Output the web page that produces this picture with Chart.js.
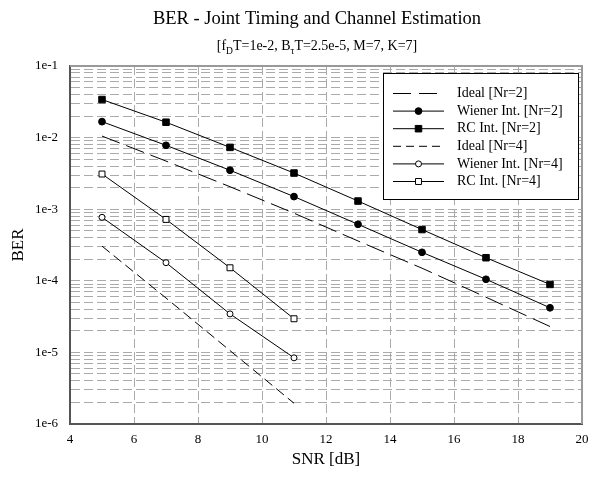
<!DOCTYPE html>
<html>
<head>
<meta charset="utf-8">
<script src="https://cdn.jsdelivr.net/npm/chart.js@4.4.1/dist/chart.umd.min.js"></script>
<style>
  html, body { margin: 0; padding: 0; background: #fff; }
  #wrap { width: 590px; height: 477px; }
</style>
</head>
<body>
<div id="wrap"><canvas id="berChart" width="590" height="477"></canvas></div>
<script>
// --- DATA ---
const snrNr2 = [5, 7, 9, 11, 13, 15, 17, 19];
const snrNr4 = [5, 7, 9, 11];

const idealNr2  = [1.05e-2, 4.7e-3, 2.06e-3, 8.8e-4, 3.6e-4, 1.5e-4, 5.9e-5, 2.3e-5];
const wienerNr2 = [1.67e-2, 7.8e-3, 3.5e-3, 1.5e-3, 6.15e-4, 2.5e-4, 1.05e-4, 4.2e-5];
const rcNr2     = [3.4e-2, 1.64e-2, 7.3e-3, 3.2e-3, 1.3e-3, 5.2e-4, 2.1e-4, 8.9e-5];

const idealNr4  = [3.05e-4, 5.75e-5, 1.06e-5, 1.95e-6];
const wienerNr4 = [7.7e-4, 1.79e-4, 3.45e-5, 8.4e-6];
const rcNr4     = [3.1e-3, 7.2e-4, 1.52e-4, 2.95e-5];

// axis ticks
const snrMin = 4, snrMax = 20, snrStep = 2;
const decadeTicks = [1e-6, 1e-5, 1e-4, 1e-3, 1e-2, 1e-1];

const titleText = 'BER - Joint Timing and Channel Estimation';
// subtitle pieces: [text, isSubscript]
const subtitleParts = [
  ['[f', false], ['D', true], ['T=1e-2, B', false], ['\u03C4', true], ['T=2.5e-5, M=7, K=7]', false]
];

const serif = "'Liberation Serif', 'Times New Roman', serif";

function pts(xs, ys) {
  return xs.map((x, i) => ({ x: x, y: ys[i] }));
}

// --- PLUGINS ---
const headerPlugin = {
  id: 'header',
  afterDraw(chart) {
    const ctx = chart.ctx;
    const cx = (chart.chartArea.left + chart.chartArea.right) / 2 - 9;
    ctx.save();
    ctx.fillStyle = '#000';
    ctx.textBaseline = 'alphabetic';
    ctx.textAlign = 'center';
    ctx.font = '18.5px ' + serif;
    ctx.fillText(titleText, cx, 24);

    // subtitle with subscripts
    ctx.textAlign = 'left';
    let total = 0;
    subtitleParts.forEach(([t, sub]) => {
      ctx.font = (sub ? '9.5px ' : '14px ') + serif;
      total += ctx.measureText(t).width;
    });
    let x = cx - total / 2;
    subtitleParts.forEach(([t, sub]) => {
      ctx.font = (sub ? '9.5px ' : '14px ') + serif;
      ctx.fillText(t, x, sub ? 53.5 : 50);
      x += ctx.measureText(t).width;
    });
    ctx.restore();
  }
};

const frameLegendPlugin = {
  id: 'frameLegend',
  afterDatasetsDraw(chart) {
    const { ctx, chartArea } = chart;
    ctx.save();

    // top + right frame
    ctx.strokeStyle = '#999';
    ctx.lineWidth = 2;
    ctx.beginPath();
    ctx.moveTo(chartArea.left, chartArea.top);
    ctx.lineTo(chartArea.right, chartArea.top);
    ctx.lineTo(chartArea.right, chartArea.bottom);
    ctx.stroke();

    // boxed legend in the upper right corner
    const w = 195, h = 126;
    const right = chartArea.right - 4, top = chartArea.top + 7;
    const left = right - w;
    ctx.fillStyle = '#fff';
    ctx.fillRect(left, top, w, h);
    ctx.strokeStyle = '#000';
    ctx.lineWidth = 1;
    ctx.strokeRect(left + 0.5, top + 0.5, w, h);

    chart.data.datasets.forEach((ds, i) => {
      const y = top + 20.5 + i * 17.6;
      const x0 = left + 10, x1 = left + 61;
      ctx.strokeStyle = '#000';
      ctx.lineWidth = 1;
      ctx.setLineDash(ds.legendDash || []);
      ctx.beginPath();
      ctx.moveTo(x0, y);
      ctx.lineTo(x1, y);
      ctx.stroke();
      ctx.setLineDash([]);
      if (ds.pointRadius > 0) {
        ctx.fillStyle = ds.pointBackgroundColor;
        ctx.strokeStyle = '#000';
        Chart.helpers.drawPoint(ctx, {
          pointStyle: ds.pointStyle, radius: ds.pointRadius, rotation: 0, borderWidth: 1
        }, (x0 + x1) / 2, y);
      }
      ctx.fillStyle = '#000';
      ctx.font = '14px ' + serif;
      ctx.textAlign = 'left';
      ctx.textBaseline = 'middle';
      ctx.fillText(ds.label, left + 74, y);
    });
    ctx.restore();
  }
};

// --- CHART ---
Chart.defaults.font.family = serif;
Chart.defaults.color = '#000';

const ctx = document.getElementById('berChart').getContext('2d');
const berChart = new Chart(ctx, {
  type: 'line',
  data: {
    datasets: [
      {
        label: 'Ideal [Nr=2]',
        data: pts(snrNr2, idealNr2),
        borderColor: '#000', borderWidth: 1,
        borderDash: [19, 7], legendDash: [18, 8],
        pointRadius: 0
      },
      {
        label: 'Wiener Int. [Nr=2]',
        data: pts(snrNr2, wienerNr2),
        borderColor: '#000', borderWidth: 1,
        pointStyle: 'circle', pointRadius: 3.4,
        pointBackgroundColor: '#000', pointBorderColor: '#000', pointBorderWidth: 1
      },
      {
        label: 'RC Int. [Nr=2]',
        data: pts(snrNr2, rcNr2),
        borderColor: '#000', borderWidth: 1,
        pointStyle: 'rect', pointRadius: 4.6,
        pointBackgroundColor: '#000', pointBorderColor: '#000', pointBorderWidth: 1
      },
      {
        label: 'Ideal [Nr=4]',
        data: pts(snrNr4, idealNr4),
        borderColor: '#000', borderWidth: 1,
        borderDash: [10, 5], legendDash: [8, 5],
        pointRadius: 0
      },
      {
        label: 'Wiener Int. [Nr=4]',
        data: pts(snrNr4, wienerNr4),
        borderColor: '#000', borderWidth: 1,
        pointStyle: 'circle', pointRadius: 3,
        pointBackgroundColor: '#fff', pointBorderColor: '#000', pointBorderWidth: 1
      },
      {
        label: 'RC Int. [Nr=4]',
        data: pts(snrNr4, rcNr4),
        borderColor: '#000', borderWidth: 1,
        pointStyle: 'rect', pointRadius: 4.2,
        pointBackgroundColor: '#fff', pointBorderColor: '#000', pointBorderWidth: 1
      }
    ]
  },
  options: {
    responsive: false,
    animation: false,
    layout: { padding: { top: 66, right: 8, left: 0, bottom: 0 } },
    plugins: {
      legend: { display: false },
      title: { display: false },
      tooltip: { enabled: false }
    },
    scales: {
      x: {
        type: 'linear',
        min: snrMin, max: snrMax,
        ticks: { stepSize: snrStep, padding: 8, font: { size: 13 }, color: '#000' },
        grid: { color: '#aaa', lineWidth: 1, drawTicks: false },
        border: { display: true, color: '#555', width: 2, dash: [9, 4] },
        title: { display: true, text: 'SNR [dB]', font: { size: 17 }, padding: { top: 0, bottom: 7 } },
        afterFit(scale) {
          scale.height = 53;
          // keep the plot edge at the layout padding, not the label overflow
          scale.paddingLeft = 0;
          scale.paddingRight = 0;
        }
      },
      y: {
        type: 'logarithmic',
        min: decadeTicks[0], max: decadeTicks[decadeTicks.length - 1],
        afterBuildTicks(scale) {
          // decades plus 2..9 minor grid lines
          const ticks = [];
          decadeTicks.forEach((d, i) => {
            ticks.push({ value: d });
            if (i < decadeTicks.length - 1) {
              for (let m = 2; m <= 9; m++) ticks.push({ value: m * d });
            }
          });
          scale.ticks = ticks;
        },
        ticks: {
          autoSkip: false,
          padding: 12,
          font: { size: 13 },
          color: '#000',
          callback: (v) => decadeTicks.some(d => Math.abs(d - v) / d < 1e-9) ? '1e' + Math.round(Math.log10(v)) : ''
        },
        grid: { color: '#aaa', lineWidth: 1, drawTicks: false },
        border: { display: true, color: '#555', width: 2, dash: [9, 4] },
        title: { display: true, text: 'BER', font: { size: 17 }, padding: { top: 8, bottom: 0 } },
        afterFit(scale) { scale.width = 70; }
      }
    }
  },
  plugins: [frameLegendPlugin, headerPlugin]
});
</script>
</body>
</html>
